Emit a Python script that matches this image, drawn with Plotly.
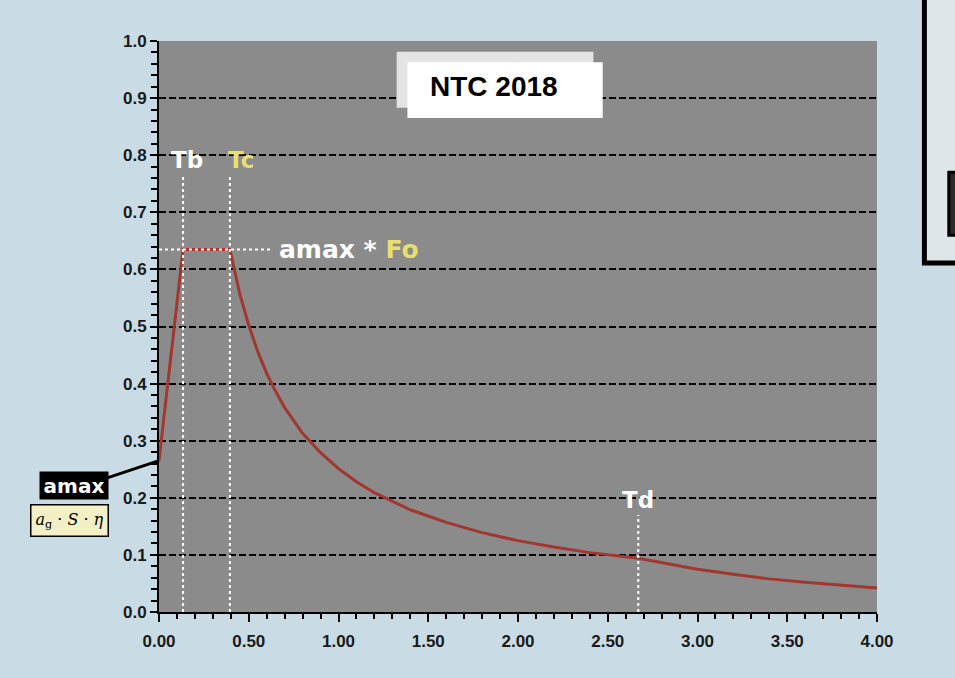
import plotly.graph_objects as go

# spectrum (period T [s], Se [g])
period = [0.0, 0.134, 0.395, 0.42, 0.45, 0.50, 0.55, 0.60, 0.65, 0.70, 0.80, 0.90, 1.00,
          1.10, 1.20, 1.40, 1.60, 1.80, 2.00, 2.20, 2.40, 2.67, 2.80, 3.00, 3.20,
          3.40, 3.60, 3.80, 4.00]
accel = [0.265, 0.635, 0.635, 0.598, 0.557, 0.502, 0.456, 0.418, 0.386, 0.358, 0.313,
         0.279, 0.251, 0.228, 0.209, 0.179, 0.157, 0.139, 0.125, 0.114, 0.104, 0.094,
         0.086, 0.075, 0.066, 0.058, 0.052, 0.047, 0.042]

Tb = 0.134
Tc = 0.395
Td = 2.67
plateau = 0.635

x_ticks = [0.0, 0.5, 1.0, 1.5, 2.0, 2.5, 3.0, 3.5, 4.0]
y_ticks = [0.0, 0.1, 0.2, 0.3, 0.4, 0.5, 0.6, 0.7, 0.8, 0.9, 1.0]

yellow = "#e9df6e"
label_font = dict(family="DejaVu Sans", size=23, color="white", weight="bold")
tick_font = dict(family="Arial", size=17, color="#1a1a1a", weight="bold")

fig = go.Figure()
fig.add_trace(go.Scatter(x=period, y=accel, mode="lines",
                         line=dict(color="#a2372f", width=3), hoverinfo="skip"))

# dotted white markers
dot = dict(color="white", width=2, dash="dot")
fig.add_shape(type="line", x0=Tb, x1=Tb, y0=0, y1=0.765, line=dot)
fig.add_shape(type="line", x0=Tc, x1=Tc, y0=0, y1=0.765, line=dot)
fig.add_shape(type="line", x0=Td, x1=Td, y0=0, y1=0.17, line=dot)
fig.add_shape(type="line", x0=0, x1=0.63, y0=plateau, y1=plateau, line=dot)

fig.add_annotation(x=Tb + 0.02, y=0.792, text="Tb", showarrow=False, font=label_font)
fig.add_annotation(x=Tc + 0.06, y=0.792, text="Tc", showarrow=False,
                   font=dict(label_font, color=yellow))
fig.add_annotation(x=Td, y=0.196, text="Td", showarrow=False, font=label_font)
fig.add_annotation(x=0.66, y=plateau, xanchor="left",
                   text="amax * <span style='color:%s'>Fo</span>" % yellow,
                   showarrow=False, font=dict(label_font, size=25))

# NTC 2018 box with its shadow
fig.add_shape(type="rect", xref="paper", yref="paper", x0=0.331, x1=0.605, y0=0.883, y1=0.981,
              fillcolor="#e4e4e4", line=dict(width=0), layer="above")
fig.add_shape(type="rect", xref="paper", yref="paper", x0=0.346, x1=0.618, y0=0.865, y1=0.963,
              fillcolor="white", line=dict(width=0), layer="above")
fig.add_annotation(xref="paper", yref="paper", x=0.466, y=0.921, xanchor="center", yanchor="middle",
                   text="<b>NTC 2018</b>", showarrow=False,
                   font=dict(family="Arial", size=28, color="black"))

# amax callout on the left
fig.add_shape(type="line", xref="paper", yref="paper", x0=-0.072, y0=0.235, x1=0, y1=accel[0],
              line=dict(color="black", width=3))
fig.add_annotation(xref="paper", yref="paper", x=-0.119, y=0.221, xanchor="center", yanchor="middle",
                   text="amax", showarrow=False, bgcolor="black", width=66, height=25,
                   font=dict(family="DejaVu Sans", size=20, color="white", weight="bold"))
fig.add_annotation(xref="paper", yref="paper", x=-0.125, y=0.161, xanchor="center", yanchor="middle",
                   text="<i>a</i><sub>g</sub> · <i>S</i> · <i>η</i>",
                   showarrow=False, bgcolor="#f4f0c6", bordercolor="black", borderwidth=1.5,
                   width=74, height=28,
                   font=dict(family="DejaVu Serif", size=16, color="black"))

# frame of the neighbouring panel on the right
fig.add_shape(type="rect", xref="paper", yref="paper", x0=1.066, x1=1.2, y0=0.611, y1=1.2,
              fillcolor="#dfe6ea", line=dict(color="black", width=5))
fig.add_shape(type="rect", xref="paper", yref="paper", x0=1.100, x1=1.2, y0=0.66, y1=0.77,
              fillcolor="#2a2a2a", line=dict(color="black", width=3))

fig.update_layout(
    width=955, height=678,
    margin=dict(l=159, r=78, t=41, b=66),
    paper_bgcolor="#c9dce6",
    plot_bgcolor="#8b8b8b",
    showlegend=False,
    xaxis=dict(range=[0, 4], tickvals=x_ticks, tickformat=".2f",
               showline=True, linecolor="black", linewidth=2,
               ticks="outside", ticklen=8, tickwidth=2, tickcolor="black",
               minor=dict(dtick=0.1, ticks="outside", ticklen=5, tickwidth=2, tickcolor="black"),
               showgrid=False, zeroline=False, ticklabelstandoff=5,
               tickfont=tick_font),
    yaxis=dict(range=[0, 1], tickvals=y_ticks, tickformat=".1f",
               showline=True, linecolor="black", linewidth=2,
               ticks="outside", ticklen=7, tickwidth=2, tickcolor="black",
               minor=dict(dtick=0.02, ticks="outside", ticklen=6, tickwidth=2, tickcolor="black"),
               showgrid=True, gridcolor="black", gridwidth=1.5, griddash="7px,3px",
               zeroline=False,
               tickfont=tick_font),
)

# drop the browser's default page margin so the figure fills the window
fig.write_html("out.html", config={"displayModeBar": False},
               post_script="document.body.style.margin='0';")
